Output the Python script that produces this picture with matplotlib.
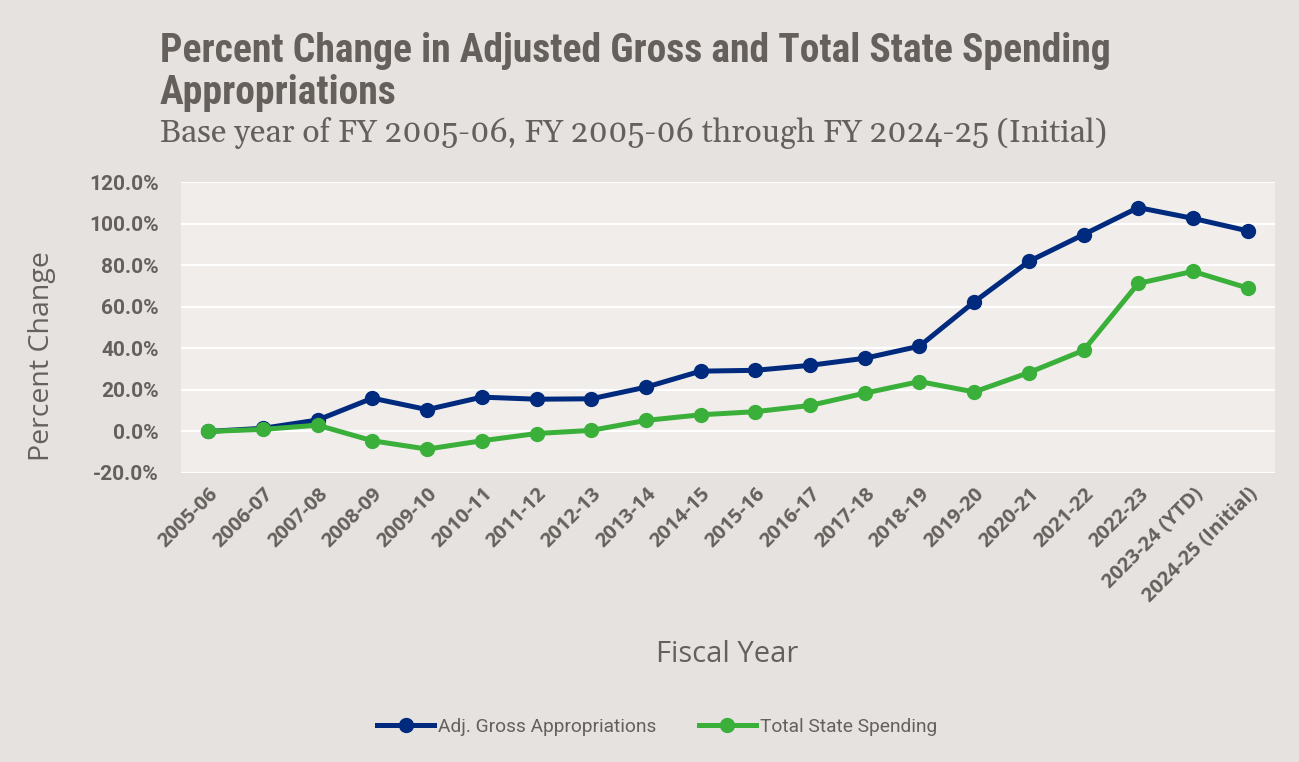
import matplotlib
matplotlib.use("Agg")
import matplotlib.pyplot as plt
from matplotlib.ticker import FuncFormatter, MultipleLocator

categories = ["2005-06", "2006-07", "2007-08", "2008-09", "2009-10", "2010-11",
              "2011-12", "2012-13", "2013-14", "2014-15", "2015-16", "2016-17",
              "2017-18", "2018-19", "2019-20", "2020-21", "2021-22", "2022-23",
              "2023-24 (YTD)", "2024-25 (Initial)"]
adj_gross = [0.0, 1.5, 5.5, 16.0, 10.5, 16.5, 15.5, 15.7, 21.3, 29.0, 29.4, 31.8,
             35.2, 41.0, 62.3, 81.8, 94.7, 107.7, 102.5, 96.5]
total_state = [0.0, 1.0, 3.0, -4.5, -8.5, -4.5, -1.0, 0.5, 5.3, 8.0, 9.5, 12.5,
               18.4, 24.0, 19.0, 28.3, 39.0, 71.2, 77.0, 69.0]

BG = "#E6E2DF"
PLOT_BG = "#F0EDEA"
TEXT = "#65605C"
BLUE = "#002A7E"
GREEN = "#3AB03A"
COND = ["Roboto Condensed", "DejaVu Sans"]
SANS = ["Open Sans", "DejaVu Sans"]

fig = plt.figure(figsize=(12.99, 7.62), dpi=100, facecolor=BG)
ax = fig.add_axes([181/1299, 1-473/762, (1275-181)/1299, (473-182)/762])
ax.set_facecolor(PLOT_BG)

x = list(range(len(categories)))
ax.plot(x, adj_gross, color=BLUE, lw=3.6, marker="o", ms=10, label="Adj. Gross Appropriations", zorder=3)
ax.plot(x, total_state, color=GREEN, lw=3.6, marker="o", ms=10, label="Total State Spending", zorder=3)

ax.set_ylim(-20, 120)
ax.set_xlim(-0.5, len(categories) - 0.5)
ax.yaxis.set_major_locator(MultipleLocator(20))
ax.yaxis.set_major_formatter(FuncFormatter(lambda v, p: f"{v:.1f}%"))
ax.grid(axis="y", color="white", lw=1.6)
ax.set_axisbelow(True)
for s in ax.spines.values():
    s.set_visible(False)
ax.tick_params(length=0)
ax.set_xticks(x)
ax.set_xticklabels(categories, rotation=45, ha="right", rotation_mode="anchor",
                   fontsize=14.5, fontweight="bold", color=TEXT, family=SANS)
for lbl in ax.get_yticklabels():
    lbl.set_fontsize(15)
    lbl.set_fontweight("bold")
    lbl.set_color(TEXT)
    lbl.set_family(["Roboto", "DejaVu Sans"])
ax.tick_params(axis="y", pad=16)
ax.tick_params(axis="x", pad=8)

fig.text(42/1299, 1-356/762, "Percent Change", fontsize=20.5, color=TEXT, family=SANS,
         rotation=90, ha="center", va="center")
fig.text(727/1299, 1-655/762, "Fiscal Year", fontsize=21, color=TEXT,
         family=SANS, ha="center", va="center")

fig.text(160/1299, 1-51/762, "Percent Change in Adjusted Gross and Total State Spending",
         fontsize=28.5, fontweight="bold", color=TEXT, family=COND, ha="left", va="center")
fig.text(160/1299, 1-93/762, "Appropriations",
         fontsize=28.5, fontweight="bold", color=TEXT, family=COND, ha="left", va="center")
fig.text(160/1299, 1-133/762, "Base year of FY 2005-06, FY 2005-06 through FY 2024-25 (Initial)",
         fontsize=23, color=TEXT, family=["Gelasio", "DejaVu Serif"], ha="left", va="center")

leg = fig.legend(loc="center", bbox_to_anchor=(657/1299, 1-727/762), ncol=2, frameon=False,
                 prop={"family": ["Roboto", "DejaVu Sans"], "size": 13.8}, handlelength=3.0,
                 columnspacing=2.2, handletextpad=0.2, labelcolor=TEXT)

fig.savefig("out.png", dpi=100, facecolor=BG)
